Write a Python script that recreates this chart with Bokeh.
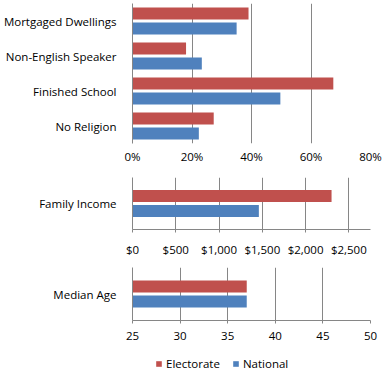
from bokeh.plotting import figure
from bokeh.layouts import column
from bokeh.models import (ColumnDataSource, FactorRange, Range1d, FixedTicker,
                          NumeralTickFormatter, Legend, LegendItem)
from bokeh.transform import dodge
from bokeh.embed import file_html
from bokeh.resources import INLINE

# ---- data ----
pct_categories = ["Mortgaged Dwellings", "Non-English Speaker", "Finished School", "No Religion"]
pct_electorate = [0.39, 0.18, 0.675, 0.273]
pct_national = [0.35, 0.233, 0.497, 0.223]
pct_ticks = [0, 0.2, 0.4, 0.6, 0.8]

income_categories = ["Family Income"]
income_electorate = [2300]
income_national = [1460]
income_ticks = [0, 500, 1000, 1500, 2000, 2500]

age_categories = ["Median Age"]
age_electorate = [37]
age_national = [37]
age_ticks = [25, 30, 35, 40, 45, 50]

series_names = ["Electorate", "National"]

RED = "#C0504D"
BLUE = "#4F81BD"
GRID = "#868686"
FONT = "Open Sans"
FS_TICK = "11.5px"
FS_CAT = "11.5px"
W = 386
LEFT = 130
FRAME_W = 240


def make_fig(cats, elec, nat, xrange, ticks, fmt, height, min_top, min_bottom,
             bar_h, off, standoff, axis_line=True):
    src = ColumnDataSource(dict(cat=cats, e=elec, n=nat))
    p = figure(width=W, height=height, output_backend="svg", toolbar_location=None,
               y_range=FactorRange(factors=list(reversed(cats)), range_padding=0),
               x_range=Range1d(*xrange),
               min_border_left=LEFT, min_border_right=W - LEFT - FRAME_W,
               min_border_top=min_top, min_border_bottom=min_bottom)
    p.outline_line_color = None
    p.background_fill_color = "white"
    p.border_fill_color = "white"
    p.hbar(y=dodge("cat", off, range=p.y_range), right="e", left=xrange[0], height=bar_h,
           source=src, fill_color=RED, line_color=None)
    p.hbar(y=dodge("cat", -off, range=p.y_range), right="n", left=xrange[0], height=bar_h,
           source=src, fill_color=BLUE, line_color=None)
    p.ygrid.grid_line_color = None
    p.xgrid.grid_line_color = GRID
    p.xgrid.grid_line_width = 1
    p.xgrid.ticker = FixedTicker(ticks=ticks)
    p.xaxis.ticker = FixedTicker(ticks=ticks)
    p.xaxis.formatter = fmt
    p.xaxis.minor_tick_line_color = None
    p.xaxis.major_tick_in = 0
    p.xaxis.major_label_standoff = standoff
    if axis_line:
        p.xaxis.axis_line_color = GRID
        p.xaxis.major_tick_line_color = GRID
        p.xaxis.major_tick_out = 3
    else:
        p.xaxis.axis_line_color = None
        p.xaxis.major_tick_line_color = None
        p.xaxis.major_tick_out = 0
    p.xaxis.major_label_text_font = FONT
    p.xaxis.major_label_text_font_size = FS_TICK
    p.xaxis.major_label_text_color = "#000000"
    p.yaxis.major_label_text_font = FONT
    p.yaxis.major_label_text_font_size = FS_CAT
    p.yaxis.major_label_text_color = "#000000"
    p.yaxis.axis_line_color = GRID
    p.yaxis.major_tick_line_color = None
    p.yaxis.minor_tick_line_color = None
    p.yaxis.major_label_standoff = 10
    return p


p1 = make_fig(pct_categories, pct_electorate, pct_national, (0, 0.8), pct_ticks,
              NumeralTickFormatter(format="0%"), 177, 3, 34, 12 / 35, 7.5 / 35, 5,
              axis_line=False)
p2 = make_fig(income_categories, income_electorate, income_national, (0, 2750),
              income_ticks, NumeralTickFormatter(format="$0,0"), 90, 0, 38,
              12 / 52, 7.5 / 52, 9)
p3 = make_fig(age_categories, age_electorate, age_national, (25, 50), age_ticks,
              NumeralTickFormatter(format="0"), 88, 0, 35, 12 / 53, 7.5 / 53, 8)

# legend strip (zero-height bars: only the legend swatches are visible)
leg_src = ColumnDataSource(dict(cat=age_categories, e=age_electorate, n=age_national))
p4 = figure(width=W, height=17, output_backend="svg", toolbar_location=None,
            x_axis_type=None, y_axis_type=None,
            y_range=FactorRange(factors=age_categories), x_range=Range1d(25, 50),
            min_border_left=LEFT, min_border_right=W - LEFT - FRAME_W,
            min_border_top=0, min_border_bottom=0)
p4.outline_line_color = None
p4.xgrid.grid_line_color = None
p4.ygrid.grid_line_color = None
lr = p4.hbar(y="cat", right="e", left=25, height=0, source=leg_src,
             fill_color=RED, line_color=None)
lb = p4.hbar(y="cat", right="n", left=25, height=0, source=leg_src,
             fill_color=BLUE, line_color=None)
legend = Legend(items=[LegendItem(label=series_names[0], renderers=[lr]),
                       LegendItem(label=series_names[1], renderers=[lb])],
                orientation="horizontal", location=(23, 1),
                label_text_font=FONT, label_text_font_size=FS_TICK, label_text_color="#000000",
                glyph_width=7, glyph_height=7, label_standoff=4, spacing=12,
                padding=0, margin=0, border_line_color=None, background_fill_alpha=0,
                label_height=12)
p4.add_layout(legend, "center")

layout = column(p1, p2, p3, p4, spacing=0)
open("out.html", "w").write(file_html(layout, INLINE))
